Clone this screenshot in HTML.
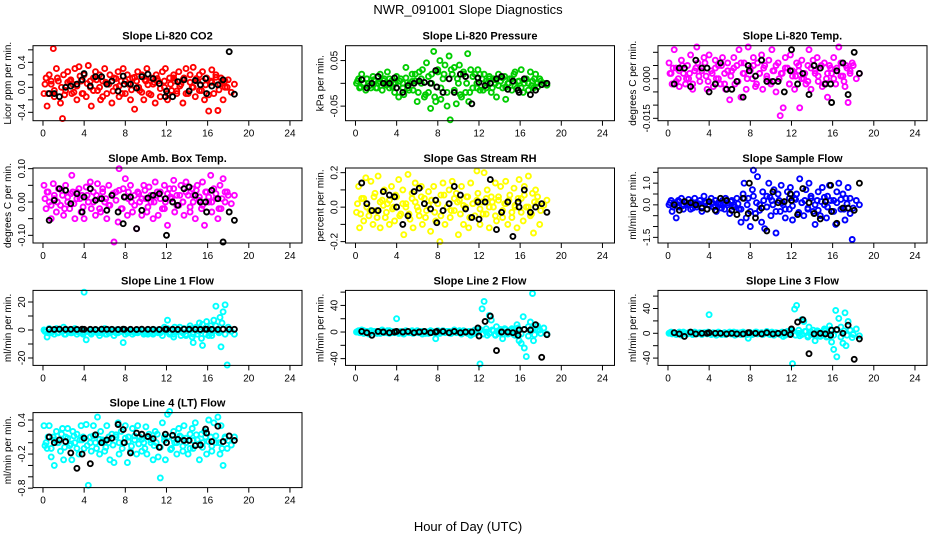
<!DOCTYPE html>
<html><head><meta charset="utf-8">
<style>
html,body{margin:0;padding:0;background:#fff;}
svg{display:block;font-family:"Liberation Sans",Arial,sans-serif;}
</style></head>
<body>
<svg id="chart" width="936" height="540" viewBox="0 0 936 540" xmlns="http://www.w3.org/2000/svg">
<rect width="936" height="540" fill="#fff"/>
<text x="468" y="14" font-size="13" text-anchor="middle">NWR_091001  Slope Diagnostics</text>
<text x="468" y="531" font-size="13" text-anchor="middle">Hour of Day (UTC)</text>
</svg>
<script>
const hours=[0.1,0.3,0.4,0.6,0.8,1.0,1.1,1.3,1.5,1.7,1.9,2.0,2.2,2.4,2.6,2.8,2.9,3.1,3.3,3.5,3.7,3.8,4.0,4.2,4.4,4.6,4.7,4.9,5.1,5.3,5.5,5.6,5.8,6.0,6.2,6.4,6.5,6.7,6.9,7.1,7.3,7.4,7.6,7.8,8.0,8.2,8.3,8.5,8.7,8.9,9.1,9.2,9.4,9.6,9.8,10.0,10.1,10.3,10.5,10.7,10.9,11.0,11.2,11.4,11.6,11.8,11.9,12.1,12.3,12.5,12.7,12.8,13.0,13.2,13.4,13.6,13.7,13.9,14.1,14.3,14.5,14.6,14.8,15.0,15.2,15.4,15.5,15.7,15.9,16.1,16.3,16.4,16.6,16.8,17.0,17.2,17.3,17.5,17.7,17.9,18.1,18.2,18.4,18.6,18.8];
const hours2=[0.2,0.5,0.8,1.1,1.4,1.8,2.1,2.4,2.7,3.0,3.3,3.6,3.9,4.3,4.6,4.9,5.2,5.5,5.8,6.1,6.4,6.8,7.1,7.4,7.7,8.0,8.3,8.6,8.9,9.3,9.6,9.9,10.2,10.5,10.8,11.1,11.4,11.8,12.1,12.4,12.7,13.0,13.3,13.6,13.9,14.3,14.6,14.9,15.2,15.5,15.8,16.1,16.4,16.8,17.1,17.4,17.7,18.0,18.3,18.6];
const blackHours=[0.6,1.1,1.6,2.2,2.7,3.3,3.8,4.0,4.6,5.1,5.7,6.2,6.7,7.3,7.8,7.9,8.5,9.1,9.6,10.2,10.7,11.3,11.9,12.0,12.6,13.1,13.7,14.2,14.8,15.3,15.8,15.9,16.4,17.0,17.5,18.1,18.6];
const xTicks=[0,4,8,12,16,20,24];

const co2Vals=[-0.1,0.15,-0.3,0.2,0.05,0.62,-0.15,0.3,0.1,-0.25,-0.5,0.2,-0.05,0.25,0.1,-0.1,0.05,0.3,-0.2,0.33,0.1,-0.1,0.2,-0.15,0.35,0.0,-0.3,0.15,0.25,-0.05,0.2,-0.2,0.1,0.3,-0.1,0.05,0.2,-0.25,0.15,0.0,0.25,-0.15,0.1,0.3,-0.1,0.2,0.05,-0.2,0.15,-0.35,0.1,0.25,-0.05,0.2,-0.2,0.1,0.3,-0.1,0.15,0.05,-0.25,0.2,0.1,-0.15,0.25,0.0,0.3,-0.2,0.15,-0.05,0.2,0.1,-0.1,0.25,0.05,-0.25,0.15,0.3,-0.1,0.2,0.0,0.32,-0.15,0.1,0.2,-0.05,0.25,-0.2,0.15,-0.38,0.1,0.28,-0.1,0.2,-0.37,0.05,0.15,-0.2,0.1,0.0];
const co2Band=[0.05,-0.1,0.1,-0.05,0.15,0.0,-0.12,0.08,0.12,-0.08,0.02,0.18,-0.1,0.06,0.1,-0.05,0.12,0.0,-0.15,0.08,0.05,-0.06,0.14,0.02,-0.1,0.1,0.06,-0.04,0.16,0.0,-0.08,0.12,0.04,-0.12,0.08,0.14,-0.02,0.1,-0.1,0.05,0.15,-0.06,0.02,0.12,-0.1,0.08,0.0,0.14,-0.05,0.1,0.04,-0.12,0.08,0.16,-0.04,0.1,0.0,0.12,-0.08,0.05];
const co2Black=[-0.1,-0.1,-0.15,0.0,0.02,0.05,0.12,0.22,0.02,0.17,0.17,0.05,0.1,-0.06,0.18,0.05,0.05,-0.01,0.17,0.21,0.14,0.06,-0.15,-0.06,-0.15,0.09,0.12,-0.06,0.11,0.04,0.14,-0.1,0.02,0.04,0.12,0.57,-0.11];
const presVals=[0.0,0.01,-0.01,0.02,0.0,-0.015,0.01,0.0,-0.01,0.015,0.005,-0.01,0.0,0.02,-0.015,0.01,0.0,0.025,-0.01,0.005,0.0,-0.02,0.015,-0.03,0.01,0.0,-0.025,0.035,-0.01,0.0,0.02,-0.015,0.005,-0.04,0.025,0.0,0.03,-0.03,0.045,-0.02,-0.055,0.02,0.07,-0.04,0.03,0.05,-0.035,0.01,0.04,-0.05,0.06,-0.08,0.02,0.035,-0.045,0.0,0.04,-0.03,0.025,-0.02,0.065,-0.04,0.03,-0.01,0.02,0.0,0.03,-0.015,0.01,0.02,-0.01,0.0,0.015,-0.02,0.01,0.0,-0.03,0.02,0.005,-0.01,0.015,-0.035,0.0,0.01,-0.015,0.02,0.025,-0.01,0.005,0.03,-0.02,0.0,0.01,-0.015,0.025,0.005,-0.01,0.02,0.0,0.01];
const presBand=[0.005,-0.008,0.0,0.01,-0.005,0.008,-0.01,0.003,0.006,-0.004,0.01,-0.008,0.0,0.005,-0.01,0.012,-0.015,0.004,0.02,-0.02,0.01,-0.025,0.015,0.0,-0.03,0.025,-0.01,0.02,-0.02,0.03,-0.015,0.01,-0.025,0.02,0.0,-0.02,0.015,-0.01,0.02,-0.015,0.005,0.01,-0.01,0.008,-0.005,0.012,-0.008,0.0,0.01,-0.006,0.004,-0.01,0.008,0.0,-0.005,0.01,-0.008,0.005,0.0,-0.004];
const presBlack=[0.008,-0.01,0.0,0.015,0.0,0.0,0.012,-0.01,-0.02,-0.005,0.0,0.005,0.002,0.0,0.028,-0.008,-0.02,0.01,-0.02,0.02,0.015,-0.045,0.012,0.002,-0.005,0.0,0.01,0.015,-0.013,0.005,-0.015,-0.02,0.01,-0.025,-0.015,-0.003,0.0];
const tempVals=[0.006,0.002,-0.002,0.011,0.004,0.0,-0.003,0.007,0.002,-0.002,0.005,0.0,0.009,-0.004,0.003,0.012,0.006,-0.001,0.004,0.008,0.001,-0.004,0.009,0.003,-0.003,0.007,0.0,0.005,-0.002,0.008,0.002,-0.004,0.006,-0.008,0.003,0.008,-0.002,0.005,0.011,-0.007,0.002,0.006,-0.004,0.012,0.004,0.0,0.008,-0.003,0.006,0.002,0.009,-0.004,0.005,0.0,0.007,-0.002,0.011,0.003,-0.005,0.006,-0.014,0.002,-0.011,0.008,0.004,-0.002,0.009,0.001,-0.004,0.006,0.003,-0.011,0.007,0.0,-0.002,0.005,0.011,-0.004,0.007,0.002,0.008,-0.001,0.004,-0.003,0.006,0.0,-0.007,0.005,0.002,0.008,-0.002,0.004,0.012,0.006,0.001,-0.003,0.005,-0.009,0.003,0.006];
const tempBand=[0.002,0.004,-0.001,0.003,0.005,0.0,0.002,-0.002,0.004,0.001,0.003,0.006,-0.001,0.002,0.004,0.0,0.005,-0.002,0.003,0.001,0.004,-0.001,0.006,0.002,0.0,0.003,0.005,-0.002,0.002,0.004,0.001,-0.001,0.003,0.005,0.0,0.002,0.004,-0.002,0.003,0.001,0.005,0.0,0.002,-0.001,0.004,0.003,0.001,0.005,-0.002,0.002,0.004,0.0,0.003,0.001,-0.001,0.004,0.002,0.005,0.0,0.002];
const tempBlack=[-0.002,0.004,0.004,-0.003,0.007,0.004,0.004,-0.005,-0.002,0.006,-0.004,-0.004,-0.001,-0.007,0.005,0.003,0.001,0.007,-0.001,-0.001,-0.001,-0.005,0.003,0.011,-0.002,0.002,-0.006,0.005,0.004,-0.002,-0.002,-0.009,0.003,0.006,-0.006,0.010,0.002];
const ambVals=[0.05,-0.02,0.03,0.0,-0.05,0.055,0.01,-0.03,0.04,-0.01,0.02,-0.04,0.05,0.0,-0.02,0.08,0.03,-0.05,0.01,0.04,-0.03,0.02,-0.05,0.045,0.0,0.06,-0.02,0.03,-0.04,0.055,0.01,-0.03,0.04,0.0,-0.05,0.05,-0.01,0.02,-0.12,0.03,-0.06,0.1,-0.02,0.04,0.07,-0.04,0.01,0.05,-0.03,0.02,-0.08,0.03,0.0,-0.04,0.05,0.01,-0.03,0.045,0.0,-0.05,0.06,0.02,-0.04,0.03,-0.02,0.05,0.0,-0.07,0.04,0.01,0.065,-0.03,0.02,-0.01,0.05,0.0,-0.04,0.06,0.02,-0.03,0.04,0.0,-0.05,0.05,0.015,-0.02,0.06,-0.07,0.03,0.0,0.08,-0.03,0.04,0.01,-0.05,0.05,-0.02,0.07,0.0,0.03];
const ambBand=[0.01,0.03,-0.01,0.02,0.0,0.035,-0.02,0.015,0.025,-0.005,0.03,0.01,-0.015,0.02,0.04,0.0,0.02,-0.02,0.03,0.01,-0.01,0.025,0.005,0.035,-0.02,0.015,0.03,0.0,-0.01,0.025,0.01,0.035,-0.015,0.02,0.0,0.03,0.01,-0.02,0.025,0.015,0.04,-0.01,0.02,0.0,0.03,-0.015,0.02,0.035,0.005,-0.01,0.03,0.015,0.0,0.025,-0.02,0.01,0.03,0.02,-0.005,0.02];
const ambBlack=[-0.055,0.005,0.04,0.035,-0.005,0.025,-0.03,0.015,0.04,0.005,0.01,-0.025,0.02,-0.03,-0.065,0.015,0.015,-0.08,-0.025,0.012,0.02,0.025,0.01,-0.1,0.0,-0.01,0.04,0.045,0.02,0.0,0.0,-0.03,0.035,0.01,-0.12,-0.03,-0.055];
const rhVals=[-0.03,0.12,-0.12,0.05,-0.08,0.17,0.0,-0.05,0.15,-0.1,0.08,-0.02,0.18,-0.12,0.04,0.1,-0.06,0.02,-0.1,0.12,0.0,-0.08,0.06,0.16,-0.04,0.1,-0.16,0.02,0.19,-0.07,0.08,-0.12,0.14,0.0,-0.05,0.12,-0.1,0.05,-0.02,0.09,-0.14,0.04,0.12,-0.08,0.02,-0.2,0.07,0.14,-0.1,0.0,0.1,-0.06,0.15,-0.02,0.08,-0.16,0.04,0.12,-0.1,0.0,0.06,-0.12,0.14,0.02,-0.05,0.21,0.08,-0.1,0.03,0.2,-0.04,0.1,-0.12,0.06,0.0,0.14,-0.08,0.04,0.12,-0.06,0.02,0.15,-0.1,0.07,-0.03,0.11,0.0,-0.12,0.16,0.05,-0.08,0.12,0.0,0.18,-0.05,0.08,-0.15,0.1,0.02,-0.1];
const rhBand=[0.02,-0.04,0.05,0.0,-0.02,0.06,-0.06,0.03,0.01,-0.03,0.04,-0.01,0.07,-0.05,0.02,0.0,-0.04,0.05,0.03,-0.02,0.06,-0.06,0.01,0.04,-0.03,0.02,-0.05,0.07,0.0,-0.02,0.05,0.03,-0.04,0.01,0.06,-0.06,0.02,0.04,-0.01,-0.04,0.05,0.0,0.03,-0.05,0.06,-0.02,0.02,0.04,-0.06,0.01,0.05,-0.03,0.07,0.0,-0.04,0.03,0.06,-0.02,0.01,0.04];
const rhBlack=[0.14,0.02,-0.02,-0.02,0.09,0.07,0.06,0.0,-0.1,-0.05,0.09,0.11,0.02,-0.01,0.04,-0.09,-0.02,0.02,0.12,0.07,-0.01,-0.06,0.03,-0.07,0.03,0.16,-0.13,-0.03,0.03,-0.17,0.03,0.0,0.1,-0.03,0.0,0.02,-0.03];
const flowVals=[0.0,0.2,-0.3,0.1,-0.6,0.2,-0.1,0.3,-0.2,0.1,0.0,0.25,-0.2,0.1,0.3,-0.1,0.0,0.2,-0.3,0.4,0.1,-0.2,0.0,0.3,-0.1,0.2,-0.3,0.1,0.0,0.2,-0.2,0.3,0.1,-0.4,0.2,0.0,-0.1,0.3,-0.2,-0.8,0.5,1.0,-0.6,0.3,-1.0,0.7,1.6,-0.4,1.3,0.0,-0.8,0.6,-1.1,0.4,1.0,-0.5,0.2,0.7,-1.3,0.5,-0.3,0.9,0.0,-0.6,0.6,-0.2,0.8,-0.7,0.3,0.5,-0.4,1.2,0.1,-0.5,0.7,-0.2,1.0,0.4,-0.3,-0.9,0.2,0.6,-0.5,0.8,0.0,-0.6,0.4,0.9,-0.3,0.2,-0.9,0.6,1.0,-0.2,0.5,-0.7,0.3,0.8,-0.4,-1.6];
const flowBand=[0.1,-0.1,0.05,0.15,-0.05,0.1,0.0,-0.15,0.1,0.05,-0.1,0.15,0.0,0.1,-0.05,0.05,-0.15,0.1,0.0,0.15,-0.1,0.05,-0.2,0.3,0.0,-0.3,0.4,0.1,-0.25,0.2,-0.1,0.35,0.0,-0.3,0.2,0.1,-0.2,0.3,-0.05,0.25,-0.35,0.1,0.2,-0.15,0.3,0.0,-0.25,0.15,0.35,-0.1,0.2,-0.3,0.1,0.25,-0.2,0.05,0.3,-0.15,0.2,0.0];
const flowBlack=[0.0,-0.25,0.15,0.1,0.0,-0.15,-0.2,0.15,-0.25,0.3,0.2,-0.25,-0.45,0.3,-0.4,1.0,-0.6,-0.15,-1.2,0.6,0.1,0.15,0.5,0.2,-0.45,0.75,0.1,-0.4,-0.65,0.15,0.9,-0.3,-0.85,-0.15,-0.15,-0.25,1.0];
const line1Vals=[0,-1,-5,1,-2,0,-3,1,-2,0,-1,2,-3,0,-1,-2,0,1,-3,-1,0,-2,27,-7,-1,0,-3,-1,0,-2,-4,0,-1,1,-3,0,-2,-1,-4,0,-2,0,-1,-9,0,-2,-1,0,-3,-1,0,-2,-1,0,-3,-1,-2,0,-1,-3,0,-1,-2,0,-4,2,-1,7,-3,0,-5,2,-1,0,-4,-2,1,-3,0,3,-5,-9,1,-3,5,-6,-11,1,6,-4,3,-2,7,17,-1,9,-12,13,18,-25];
const line1Band=[-1,-2,-1,0,-2,-1,-3,-1,-2,0,-1,-2,-3,-1,-2,-1,0,-2,-1,-3,-2,-1,-2,0,-1,-3,-2,-1,-2,-1,0,-2,-3,-1,-2,-1,-2,0,1,-2,-3,-1,2,-2,-4,1,-3,2,-1,4,-3,1,-4,3,-2,5,-3,2,-1,-3];
const line1Black=[0.5,0.4,0.6,0.5,0.5,0.4,0.6,0.5,0.5,0.4,0.6,0.5,0.5,0.4,0.6,0.5,0.5,0.4,0.6,0.5,0.5,0.4,0.6,0.5,0.5,0.4,0.6,0.5,0.5,0.4,0.6,0.5,0.5,0.4,0.6,0.5,0.5];
const line2Vals=[0,2,-1,3,-2,0,1,-3,2,0,-1,1,0,-2,3,-1,0,2,-2,1,0,-1,20,-2,1,0,-3,2,0,-1,1,-2,0,2,-1,0,-3,1,0,-2,2,-1,0,-10,1,-2,0,2,-1,0,1,-2,0,3,-1,0,2,-3,1,0,-2,1,-5,0,3,-1,2,-48,35,46,0,-5,25,18,2,-5,8,-2,4,-10,5,0,-3,2,5,-4,1,11,-13,-17,23,-24,-37,8,15,58,-13,5,9,3];
const line2Band=[1,-1,2,0,-1,1,-2,1,0,-1,2,-1,1,0,-2,1,-1,2,0,-1,1,-2,0,1,-1,2,-1,0,1,-2,1,0,-1,2,-1,1,-3,2,4,-3,5,-2,3,-4,2,-3,4,-2,3,-5,6,-3,4,-6,5,-4,3,-2,6,-3];
const line2Black=[1,-1,-5,1,0,-1,0,1,0,1,-1,0,1,-1,0,1,1,-1,1,-1,0,0,6,-6,16,24,-28,0,0,-1,-5,3,4,3,11,-38,-4];
const line3Vals=[0,2,-1,1,-2,0,1,-3,2,0,-1,1,0,-2,2,-1,0,1,-2,1,0,-1,30,-2,1,0,-3,2,0,-1,1,-2,0,2,-1,0,-3,1,0,-2,2,-1,0,-8,1,-2,0,2,-1,0,1,-2,0,3,-1,0,2,-3,1,0,-2,1,-5,0,3,-1,4,-49,39,45,0,-4,22,19,3,-6,10,-2,5,-12,4,0,-5,2,7,-6,1,12,-14,-26,37,-38,24,10,-16,33,-20,19,5,-7];
const line3Band=[1,0,-1,2,-1,0,1,-2,1,0,-1,1,2,-1,0,1,-2,1,0,-1,2,-1,1,0,-2,1,-1,2,0,-1,1,-2,0,1,-1,2,-3,1,4,-3,5,-2,3,-4,2,-4,3,-2,4,-5,6,-3,5,-6,4,-3,5,-2,7,-4];
const line3Black=[1,-1,-5,2,-1,0,0,1,0,0,-1,0,-1,-1,1,1,0,-1,1,-1,0,1,-2,7,18,22,-33,-1,0,-1,-3,5,6,0,13,-42,-9];
const line4Vals=[0.3,0.0,-0.1,0.3,-0.25,0.1,-0.4,0.2,0.0,-0.15,0.25,-0.3,0.1,0.25,-0.05,-0.3,0.2,0.0,0.15,-0.2,0.3,0.05,-0.1,0.32,-0.75,0.1,-0.15,0.3,0.0,0.45,-0.2,0.2,0.05,-0.15,0.3,0.0,-0.3,0.15,-0.35,0.1,0.35,-0.2,0.2,0.0,0.3,-0.35,0.1,-0.15,0.25,0.05,-0.2,0.3,0.1,-0.15,0.0,0.28,-0.2,0.15,0.05,-0.3,0.2,0.0,-0.25,-0.62,0.35,0.1,-0.3,0.5,0.55,-0.1,0.2,0.0,-0.2,0.25,0.1,-0.15,0.3,0.0,-0.2,0.15,0.25,-0.1,0.35,0.05,-0.3,0.15,0.0,0.2,-0.2,0.4,0.1,-0.15,0.35,0.0,0.45,-0.2,0.3,-0.4,0.1,-0.1];
const line4Band=[-0.05,0.1,-0.1,0.05,0.0,0.15,-0.08,0.08,-0.02,0.12,-0.1,0.05,0.1,-0.05,0.0,0.12,-0.1,0.06,0.02,-0.08,0.1,-0.04,0.14,0.0,-0.1,0.08,0.02,-0.06,0.12,-0.02,0.06,-0.1,0.1,0.0,-0.05,0.15,-0.08,0.04,0.1,-0.12,0.06,0.0,0.12,-0.06,0.08,-0.1,0.04,0.14,-0.02,-0.08,0.1,0.02,-0.06,0.12,0.0,-0.1,0.08,0.04,-0.04,0.1];
const line4Black=[0.1,0.0,0.05,0.02,-0.18,-0.45,-0.2,0.08,-0.37,0.14,0.0,0.05,0.08,0.32,0.23,0.0,-0.18,0.17,0.15,0.11,0.07,-0.08,0.15,0.0,0.13,0.06,0.04,0.04,-0.05,-0.04,0.24,0.17,0.02,0.29,0.02,0.12,0.04];

const panelTitles=["Slope Li-820 CO2","Slope Li-820 Pressure","Slope Li-820 Temp.","Slope Amb. Box Temp.","Slope Gas Stream RH","Slope Sample Flow","Slope Line 1 Flow","Slope Line 2 Flow","Slope Line 3 Flow","Slope Line 4 (LT) Flow"];
const panelUnits=["Licor ppm per min.","kPa per min.","degrees C per min.","degrees C per min.","percent per min.","ml/min per min.","ml/min per min.","ml/min per min.","ml/min per min.","ml/min per min."];
const panelSeries=[co2Vals,presVals,tempVals,ambVals,rhVals,flowVals,line1Vals,line2Vals,line3Vals,line4Vals];
const panelBand=[co2Band,presBand,tempBand,ambBand,rhBand,flowBand,line1Band,line2Band,line3Band,line4Band];
const panelBlack=[co2Black,presBlack,tempBlack,ambBlack,rhBlack,flowBlack,line1Black,line2Black,line3Black,line4Black];
const panelYTicks=[[-0.4,-0.2,0,0.2,0.4,0.6],[-0.05,0,0.05],[-0.015,-0.01,-0.005,0,0.005,0.01],[-0.1,-0.05,0,0.05,0.1],[-0.2,-0.1,0,0.1,0.2],[-1.5,-1,-0.5,0,0.5,1,1.5],[-20,-10,0,10,20],[-40,-20,0,20,40,60],[-40,-20,0,20,40,60],[-0.8,-0.6,-0.4,-0.2,0,0.2,0.4]];
const panelYLabels=[{"-0.4":"-0.4","0":"0.0","0.4":"0.4"},{"-0.05":"-0.05","0.05":"0.05"},{"-0.015":"-0.015","0":"0.000"},{"-0.1":"-0.10","0":"0.00","0.1":"0.10"},{"-0.2":"-0.2","0":"0.0","0.2":"0.2"},{"-1.5":"-1.5","0":"0.0","1":"1.0"},{"-20":"-20","0":"0","20":"20"},{"-40":"-40","0":"0","40":"40"},{"-40":"-40","0":"0","40":"40"},{"-0.8":"-0.8","-0.2":"-0.2","0.4":"0.4"}];
const panelYDomain=[[-0.534,0.666],[-0.082,0.0826],[-0.0159,0.0125],[-0.123,0.102],[-0.208,0.227],[-1.76,1.70],[-25.3,28.3],[-50.2,62.6],[-51.8,69.2],[-0.79,0.53]];
const panelColors=["#ff0000","#00cd00","#ff00ff","#ff00ff","#ffff00","#0000ff","#00ffff","#00ffff","#00ffff","#00ffff"];

const NS="http://www.w3.org/2000/svg";
const svg=document.getElementById('chart');
function mk(tag,attrs,parent){const e=document.createElementNS(NS,tag);for(const k in attrs)e.setAttribute(k,attrs[k]);(parent||svg).appendChild(e);return e;}
const colLeft=[33,345.5,658], boxW=269, boxH=75, rowTop=[45.7,168,290.4,412.6];
const xDom=[-0.97,25.17];

panelTitles.forEach((title,p)=>{
  const col=p%3,row=Math.floor(p/3);
  const L=colLeft[col],T=rowTop[row],R=L+boxW,B=T+boxH;
  const dom=panelYDomain[p];
  const xs=v=>L+(v-xDom[0])/(xDom[1]-xDom[0])*boxW;
  const ys=v=>B-(v-dom[0])/(dom[1]-dom[0])*boxH;
  const g=mk('g',{});
  
  
  const t=mk('text',{x:(L+R)/2,y:T-6,'font-size':11,'font-weight':'bold','text-anchor':'middle'},g);
  t.textContent=title;
  
  
  const yl=mk('text',{x:0,y:0,'font-size':10,'text-anchor':'middle',transform:`translate(${L-22},${(T+B)/2}) rotate(-90)`},g);
  yl.textContent=panelUnits[p];
  
  
  const pts=mk('g',{fill:'none',stroke:panelColors[p],'stroke-width':1.9},g);
  
  
  const band=panelBand[p];
  for(let i=0;i<band.length&&i<hours2.length;i++){
    const c=mk('circle',{cx:xs(hours2[i]).toFixed(1),cy:ys(band[i]).toFixed(1),r:2.5},pts);
    
    
  }
  const vals=panelSeries[p];
  for(let i=0;i<vals.length&&i<hours.length;i++){
    const c=mk('circle',{cx:xs(hours[i]).toFixed(1),cy:ys(vals[i]).toFixed(1),r:2.5},pts);
    
    
  }
  const bp=mk('g',{fill:'none',stroke:'#000','stroke-width':1.9},g);
  
  
  const bv=panelBlack[p];
  for(let i=0;i<bv.length&&i<blackHours.length;i++){
    const c=mk('circle',{cx:xs(blackHours[i]).toFixed(1),cy:ys(bv[i]).toFixed(1),r:2.5},bp);
    
    
  }
  const box=mk('rect',{x:L,y:T,width:boxW,height:boxH,fill:'none',stroke:'#000','stroke-width':1},g);
  
  
  xTicks.forEach(v=>{
    const x=xs(v);
    const tk=mk('line',{x1:x,x2:x,y1:B,y2:B+5,stroke:'#000'},g);
    
    
    const tl=mk('text',{x:x,y:B+16,'font-size':10,'text-anchor':'middle'},g);
    tl.textContent=String(v);
    
    
  });
  panelYTicks[p].forEach(v=>{
    const y=ys(v);
    const tk=mk('line',{x1:L-5,x2:L,y1:y,y2:y,stroke:'#000'},g);
    
    
    const lab=panelYLabels[p][String(v)];
    if(lab!==undefined){
      const tl=mk('text',{x:0,y:0,'font-size':10,'text-anchor':'middle',transform:`translate(${L-8},${y}) rotate(-90)`},g);
      tl.textContent=lab;
      
      
    }
  });
});
</script>
</body></html>
